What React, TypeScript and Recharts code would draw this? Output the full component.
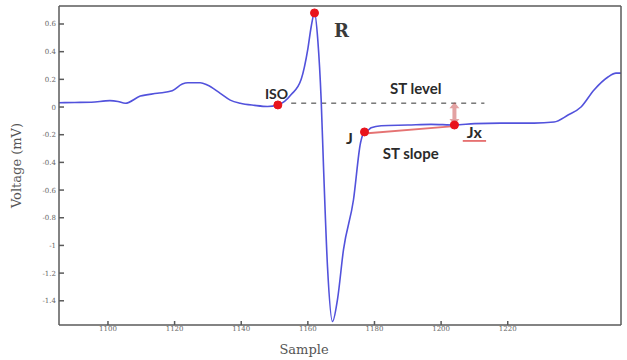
import React from 'react';
import { LineChart, Line, XAxis, YAxis, ReferenceDot, ReferenceLine } from 'recharts';

// ECG beat, sample index vs voltage (mV)
const samples = [
  1085, 1090, 1095, 1100.6, 1103, 1105.2, 1109.7, 1114.8, 1119.3, 1122.3, 1124, 1127.7, 1129.8, 1133.7,
  1136.7, 1139.7, 1144, 1147.9, 1151, 1153, 1155, 1158, 1160, 1161, 1162, 1163, 1164, 1164.7, 1165.9,
  1167.4, 1168.9, 1170.7, 1173.7, 1175.8, 1177, 1178, 1179, 1182, 1190, 1197, 1204, 1210, 1217.9,
  1227.9, 1233.9, 1238.1, 1242, 1245.9, 1250.1, 1252.5, 1254,
];
const voltage = [
  0.031, 0.033, 0.035, 0.046, 0.04, 0.027, 0.079, 0.099, 0.118, 0.166, 0.175, 0.175, 0.159, 0.099,
  0.05, 0.027, 0.012, 0.004, 0.015, 0.04, 0.09, 0.2, 0.42, 0.58, 0.68, 0.48, 0.05, -0.43, -1.155,
  -1.55, -1.39, -1.03, -0.67, -0.26, -0.18, -0.17, -0.15, -0.135, -0.13, -0.125, -0.13, -0.12, -0.116,
  -0.116, -0.108, -0.058, 0, 0.123, 0.217, 0.245, 0.245,
];

const xTicks = [1100, 1120, 1140, 1160, 1180, 1200, 1220];
const topTicks = [1103, 1125, 1146, 1168, 1190, 1212, 1234];
const yTicks = [0.6, 0.4, 0.2, 0, -0.2, -0.4, -0.6, -0.8, -1, -1.2, -1.4];

// fiducial points
const iso = { s: 1151, v: 0.015 };
const rPeak = { s: 1162, v: 0.68 };
const jPoint = { s: 1177, v: -0.18 };
const jxPoint = { s: 1204, v: -0.13 };
const stLevel = { from: 1155, to: 1213, v: 0.028 };

const data = samples.map((s, i) => ({ s, v: voltage[i] }));

const axisColor = '#5a5a5a';
const tickStyle = { fill: '#666', fontSize: 7, fontFamily: 'DejaVu Serif' };

const textLabel = (value: string, size: number, serif = false) => (props: any) => {
  const { viewBox } = props;
  const cx = viewBox.x + viewBox.width / 2;
  const cy = viewBox.y + viewBox.height / 2;
  return (
    <text
      x={cx}
      y={cy}
      textAnchor="middle"
      dominantBaseline="central"
      fontSize={size}
      fontWeight="bold"
      fontFamily={serif ? 'DejaVu Serif' : 'Lato'}
      fill={serif ? '#3a3a3a' : '#2b2b2b'}
    >
      {value}
    </text>
  );
};

const arrowShape = (props: any) => {
  const { x1, y1, x2, y2 } = props;
  const top = Math.min(y1, y2);
  const bot = Math.max(y1, y2);
  return (
    <g opacity={0.5}>
      <line x1={x1} x2={x2} y1={top + 4} y2={bot - 4} stroke="#c84848" strokeWidth={4} />
      <path d={`M${x1 - 5},${top + 6} L${x1},${top} L${x1 + 5},${top + 6} Z`} fill="#c84848" />
      <path d={`M${x1 - 5},${bot - 6} L${x1},${bot} L${x1 + 5},${bot - 6} Z`} fill="#c84848" />
    </g>
  );
};

export default function App() {
  return (
    <div style={{ position: 'absolute', left: 0, top: 0, background: '#fff' }}>
      <LineChart width={627} height={360} data={data} margin={{ top: 5, right: 5, bottom: 0, left: 0 }}>
        <XAxis
          xAxisId="bottom"
          dataKey="s"
          type="number"
          domain={[1085.3, 1254]}
          ticks={xTicks}
          allowDataOverflow
          height={35}
          tickSize={-4}
          tickMargin={5}
          tick={tickStyle}
          stroke={axisColor}
          strokeWidth={1.5}
          label={{ value: 'Sample', position: 'insideBottom', offset: 6, dx: -36, fill: '#555', fontSize: 13, fontFamily: 'DejaVu Serif' }}
        />
        <XAxis
          xAxisId="top"
          orientation="top"
          dataKey="s"
          type="number"
          domain={[1085.3, 1254]}
          ticks={topTicks}
          allowDataOverflow
          height={1}
          tickSize={-4}
          tick={false}
          stroke={axisColor}
          strokeWidth={1.5}
        />
        <YAxis
          yAxisId="left"
          type="number"
          domain={[-1.575, 0.73]}
          ticks={yTicks}
          allowDataOverflow
          width={59}
          tickSize={-5}
          tickMargin={8}
          tick={tickStyle}
          stroke={axisColor}
          strokeWidth={1.5}
          label={{ value: 'Voltage (mV)', angle: -90, position: 'insideLeft', offset: 16, fill: '#555', fontSize: 13, fontFamily: 'DejaVu Serif', style: { textAnchor: 'middle' } }}
        />
        <YAxis
          yAxisId="right"
          orientation="right"
          type="number"
          domain={[-1.575, 0.73]}
          ticks={yTicks}
          allowDataOverflow
          width={1}
          tickSize={-4}
          tick={false}
          stroke={axisColor}
          strokeWidth={1.5}
        />

        {/* ST level (dashed) */}
        <ReferenceLine
          xAxisId="bottom"
          yAxisId="left"
          segment={[{ x: stLevel.from, y: stLevel.v }, { x: stLevel.to, y: stLevel.v }]}
          stroke="#333"
          strokeDasharray="5 5"
          strokeWidth={1}
          ifOverflow="visible"
        />
        {/* ST slope */}
        <ReferenceLine
          xAxisId="bottom"
          yAxisId="left"
          segment={[{ x: jPoint.s, y: jPoint.v - 0.012 }, { x: jxPoint.s, y: jxPoint.v - 0.008 }]}
          stroke="#e05a5a"
          strokeWidth={2}
          strokeOpacity={0.85}
          ifOverflow="visible"
        />

        <Line
          xAxisId="bottom"
          yAxisId="left"
          type="monotone"
          dataKey="v"
          stroke="#5252dc"
          strokeWidth={1.6}
          dot={false}
          isAnimationActive={false}
        />

        {/* ST deviation arrow */}
        <ReferenceLine
          xAxisId="bottom"
          yAxisId="left"
          segment={[{ x: jxPoint.s, y: 0.035 }, { x: jxPoint.s, y: -0.13 }]}
          shape={arrowShape}
          ifOverflow="visible"
        />
        {/* Jx underline */}
        <ReferenceLine
          xAxisId="bottom"
          yAxisId="left"
          segment={[{ x: 1206.5, y: -0.245 }, { x: 1213.5, y: -0.245 }]}
          stroke="#e05050"
          strokeWidth={1.5}
          ifOverflow="visible"
        />

        {[iso, rPeak, jPoint, jxPoint].map((p, i) => (
          <ReferenceDot
            key={i}
            xAxisId="bottom"
            yAxisId="left"
            x={p.s}
            y={p.v}
            r={4}
            fill="#e8141c"
            stroke="#e8141c"
            ifOverflow="visible"
          />
        ))}

        <ReferenceDot xAxisId="bottom" yAxisId="left" x={1170.1} y={0.556} r={0} stroke="none" fill="none" ifOverflow="visible" label={textLabel('R', 18, true)} />
        <ReferenceDot xAxisId="bottom" yAxisId="left" x={1150.6} y={0.1} r={0} stroke="none" fill="none" ifOverflow="visible" label={textLabel('ISO', 14)} />
        <ReferenceDot xAxisId="bottom" yAxisId="left" x={1192.4} y={0.137} r={0} stroke="none" fill="none" ifOverflow="visible" label={textLabel('ST level', 15)} />
        <ReferenceDot xAxisId="bottom" yAxisId="left" x={1172.5} y={-0.217} r={0} stroke="none" fill="none" ifOverflow="visible" label={textLabel('J', 16)} />
        <ReferenceDot xAxisId="bottom" yAxisId="left" x={1190.9} y={-0.332} r={0} stroke="none" fill="none" ifOverflow="visible" label={textLabel('ST slope', 15)} />
        <ReferenceDot xAxisId="bottom" yAxisId="left" x={1210} y={-0.18} r={0} stroke="none" fill="none" ifOverflow="visible" label={textLabel('Jx', 16)} />
      </LineChart>
    </div>
  );
}
